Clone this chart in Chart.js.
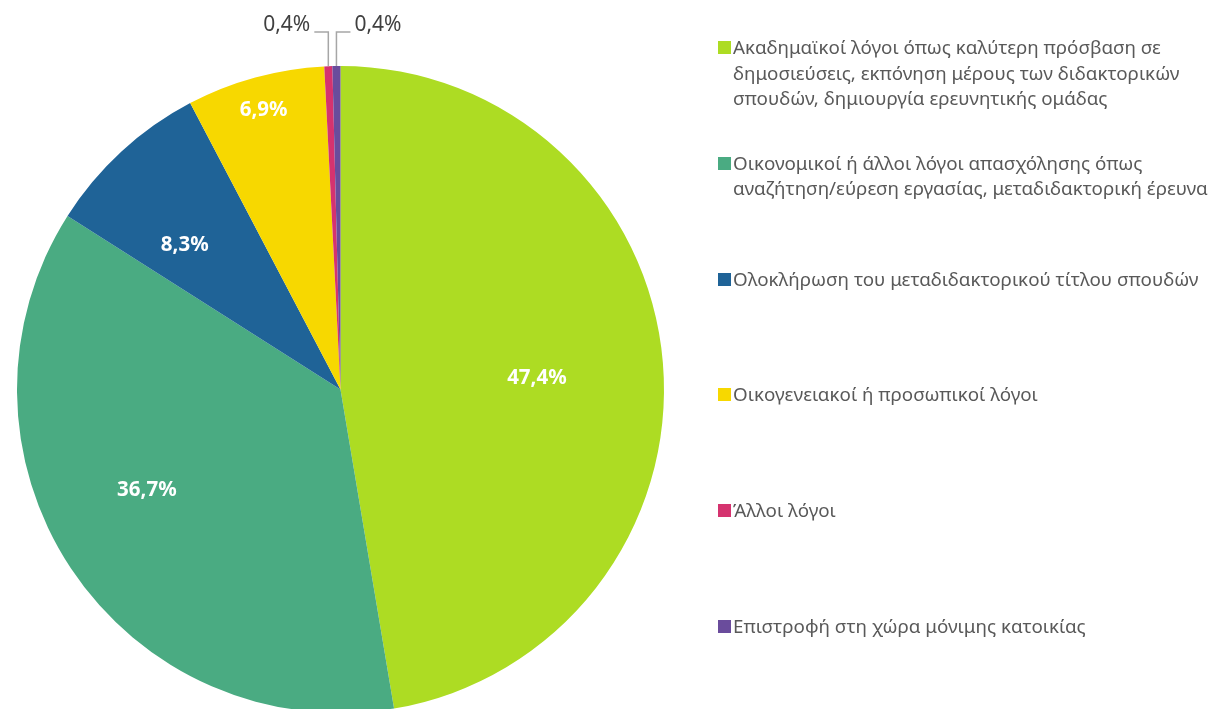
<!DOCTYPE html>
<html>
<head>
<meta charset="utf-8">
<script src="https://cdn.jsdelivr.net/npm/chart.js@4"></script>
<style>
  body { margin: 0; background: #fff; overflow: hidden; }
  #wrap { position: relative; width: 1220px; height: 709px; overflow: hidden; }
  #myChart { position: absolute; left: 0; top: 0; }
  #legend { position: absolute; left: 718px; top: 0; font-family: "Noto Sans", sans-serif; font-size: 18.8px; color: #595959; }
  .item { position: absolute; left: 0; white-space: nowrap; line-height: 25.5px; }
  .box { position: absolute; left: 0; top: 6px; width: 13px; height: 13px; }
  .txt { position: absolute; left: 15px; top: 0; }
</style>
</head>
<body>
<div id="wrap">
  <!-- canvas a little taller than the page: the pie runs off the bottom edge like the original -->
  <canvas id="myChart" width="1220" height="714"></canvas>
  <div id="legend"></div>
</div>
<script>
const categories = [
  ["Ακαδημαϊκοί λόγοι όπως καλύτερη πρόσβαση σε", "δημοσιεύσεις, εκπόνηση μέρους των διδακτορικών", "σπουδών, δημιουργία ερευνητικής ομάδας"],
  ["Οικονομικοί ή άλλοι λόγοι απασχόλησης όπως", "αναζήτηση/εύρεση εργασίας, μεταδιδακτορική έρευνα"],
  ["Ολοκλήρωση του μεταδιδακτορικού τίτλου σπουδών"],
  ["Οικογενειακοί ή προσωπικοί λόγοι"],
  ["Άλλοι λόγοι"],
  ["Επιστροφή στη χώρα μόνιμης κατοικίας"],
];
const values = [47.4, 36.7, 8.3, 6.9, 0.4, 0.4];
const colors = ["#addc23", "#4aab82", "#1f6397", "#f7d800", "#d5336f", "#6a4c9c"];

// where the big labels sit: fraction of radius, and a small turn (deg) off the slice middle
const labelDist = [0.608, 0.675, 0.656, 0.896];
const labelTurn = [1.6, 6.0, -4.6, -0.1];

const fmt = (v) => v.toFixed(1).replace(".", ",") + "%";

const sliceLabels = {
  id: "sliceLabels",
  afterDatasetsDraw(chart) {
    const ctx = chart.ctx;
    const meta = chart.getDatasetMeta(0);
    let small = 0;
    ctx.save();
    meta.data.forEach((arc, i) => {
      const p = arc.getProps(["x", "y", "startAngle", "endAngle", "outerRadius"], true);
      const mid = (p.startAngle + p.endAngle) / 2;
      const text = fmt(values[i]);
      if (values[i] >= 1) {
        const a = mid + (labelTurn[i] * Math.PI) / 180;
        const r = p.outerRadius * labelDist[i];
        ctx.font = "bold 20.5px 'Noto Sans'";
        ctx.fillStyle = "#ffffff";
        ctx.textAlign = "center";
        ctx.textBaseline = "middle";
        ctx.fillText(text, p.x + Math.cos(a) * r, p.y + Math.sin(a) * r);
      } else {
        // small slices: label above with an elbow leader line
        const side = small++ === 0 ? -1 : 1;
        const sx = p.x + Math.cos(mid) * p.outerRadius;
        const sy = p.y + Math.sin(mid) * p.outerRadius;
        const ey = p.y - p.outerRadius - 34;
        ctx.strokeStyle = "#a6a6a6";
        ctx.lineWidth = 1.5;
        ctx.beginPath();
        ctx.moveTo(sx, sy);
        ctx.lineTo(sx, ey);
        ctx.lineTo(sx + side * 14, ey);
        ctx.stroke();
        ctx.font = "21px 'Noto Sans'";
        ctx.fillStyle = "#404040";
        ctx.textAlign = side < 0 ? "right" : "left";
        ctx.textBaseline = "alphabetic";
        ctx.fillText(text, sx + side * 18, ey - 1);
      }
    });
    ctx.restore();
  },
};

const ctx = document.getElementById("myChart").getContext("2d");
const myChart = new Chart(ctx, {
  type: "pie",
  data: {
    labels: categories,
    datasets: [
      {
        data: values,
        backgroundColor: colors,
        borderWidth: 0,
      },
    ],
  },
  options: {
    responsive: false,
    animation: false,
    layout: { padding: { left: 17, right: 556, top: 66, bottom: 1 } },
    plugins: {
      legend: { display: false },
      tooltip: { enabled: false },
    },
  },
  plugins: [sliceLabels],
});

// html legend built from the chart data
const legendEl = document.getElementById("legend");
myChart.data.labels.forEach((lines, i) => {
  const item = document.createElement("div");
  item.className = "item";
  item.style.top = 35 + i * 115.8 + "px";
  item.innerHTML =
    '<span class="box" style="background:' + colors[i] + '"></span>' +
    '<span class="txt">' + lines.join("<br>") + "</span>";
  legendEl.appendChild(item);
});
</script>
</body>
</html>
